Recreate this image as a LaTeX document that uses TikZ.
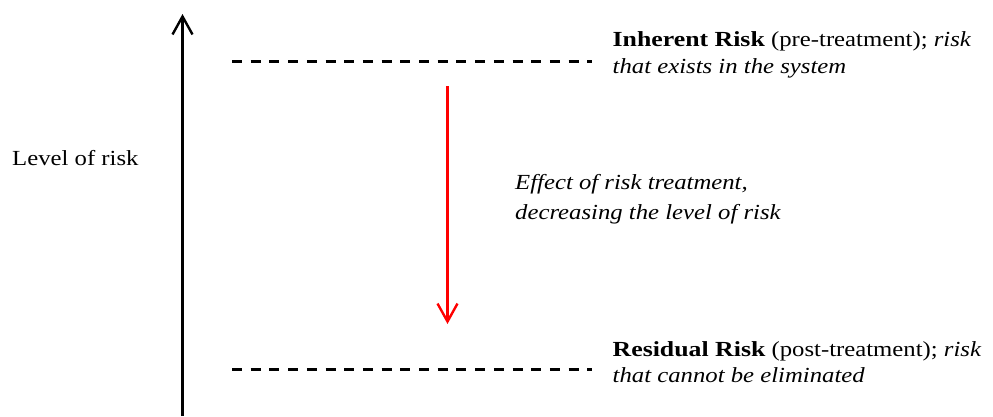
\documentclass[tikz,border=0pt]{standalone}
\usepackage{fontspec}
\setmainfont{Liberation Serif}[FakeStretch=1.15,BoldFeatures={FakeStretch=1.2}]
\usetikzlibrary{arrows.meta}
\begin{document}
\begin{tikzpicture}[x=1pt,y=-1pt,
  axis/.style={line width=2.4pt,-{Straight Barb[length=18pt,width=20pt,line width=2.4pt]}},
  level/.style={line width=2.8pt,dash pattern=on 10pt off 8.7pt},
  effect/.style={red,line width=2.4pt,-{Straight Barb[length=18pt,width=20pt,line width=2.4pt]}},
  label/.style={anchor=base west,inner sep=0pt,align=left,font=\fontsize{21.5}{26.7}\selectfont}]
  \useasboundingbox (0,0) rectangle (993,416);
  % vertical risk axis
  \coordinate (axisbottom) at (182.5,416);
  \coordinate (axistop) at (182.5,14);
  \draw[axis] (axisbottom) -- (axistop);
  \node[label] (axislabel) at (12,165.7) {Level of risk};
  % inherent risk level (anchor sits on the last line's baseline)
  \coordinate (inA) at (232,61.5);
  \coordinate (inB) at (592,61.5);
  \draw[level] (inA) -- (inB);
  \node[label] (inherent) at (612.5,73.3) {\textbf{Inherent Risk} (pre-treatment); \textit{risk}\\\textit{that exists in the system}};
  % residual risk level
  \coordinate (resA) at (232,369.5);
  \coordinate (resB) at (592,369.5);
  \draw[level] (resA) -- (resB);
  \node[label] (residual) at (612.5,382.7) {\textbf{Residual Risk} (post-treatment); \textit{risk}\\\textit{that cannot be eliminated}};
  % treatment effect
  \coordinate (efftop) at (447.5,86);
  \coordinate (effbot) at (447.5,324);
  \draw[effect] (efftop) -- (effbot);
  \node[label,font=\fontsize{21.5}{30}\selectfont] (efftext) at (515,219.5) {\textit{Effect of risk treatment,}\\\textit{decreasing the level of risk}};
\end{tikzpicture}
\end{document}
